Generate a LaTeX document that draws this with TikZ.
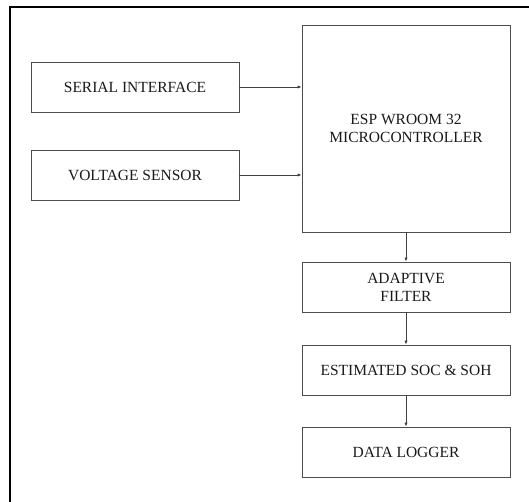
\documentclass[tikz,border=0pt]{standalone}
\usepackage{fontspec}
\setmainfont{Liberation Serif}
\usetikzlibrary{arrows.meta}
\begin{document}
\begin{tikzpicture}[x=1pt,y=-1pt,
  block/.style={draw=black!70,line width=0.8pt,minimum width=208pt,
                minimum height=50pt,align=center,inner sep=2pt,
                text=black!90,font=\fontsize{15.5}{18}\selectfont},
  flow/.style={draw=black!75,line width=0.7pt,
               -{Latex[length=4pt,width=3.2pt]}},
  frame/.style={draw=black,line width=2pt}]
\path[use as bounding box] (0,0) rectangle (529,502);
\draw[frame] (10,502) |- (529,7);
\node[block] (serial) at (135,87) {SERIAL INTERFACE};
\node[block] (voltage) at (135,175) {VOLTAGE SENSOR};
\node[block,minimum height=207pt] (esp) at (406,128.5)
  {ESP WROOM 32\\MICROCONTROLLER};
\node[block] (filter) at (406,287) {ADAPTIVE\\FILTER};
\node[block] (estimate) at (406,370) {ESTIMATED SOC \& SOH};
\node[block] (logger) at (406,452) {DATA LOGGER};
\draw[flow] (serial) -- (serial -| esp.west);
\draw[flow] (voltage) -- (voltage -| esp.west);
\draw[flow] (esp) -- (filter);
\draw[flow] (filter) -- (estimate);
\draw[flow] (estimate) -- (logger);
\end{tikzpicture}
\end{document}
